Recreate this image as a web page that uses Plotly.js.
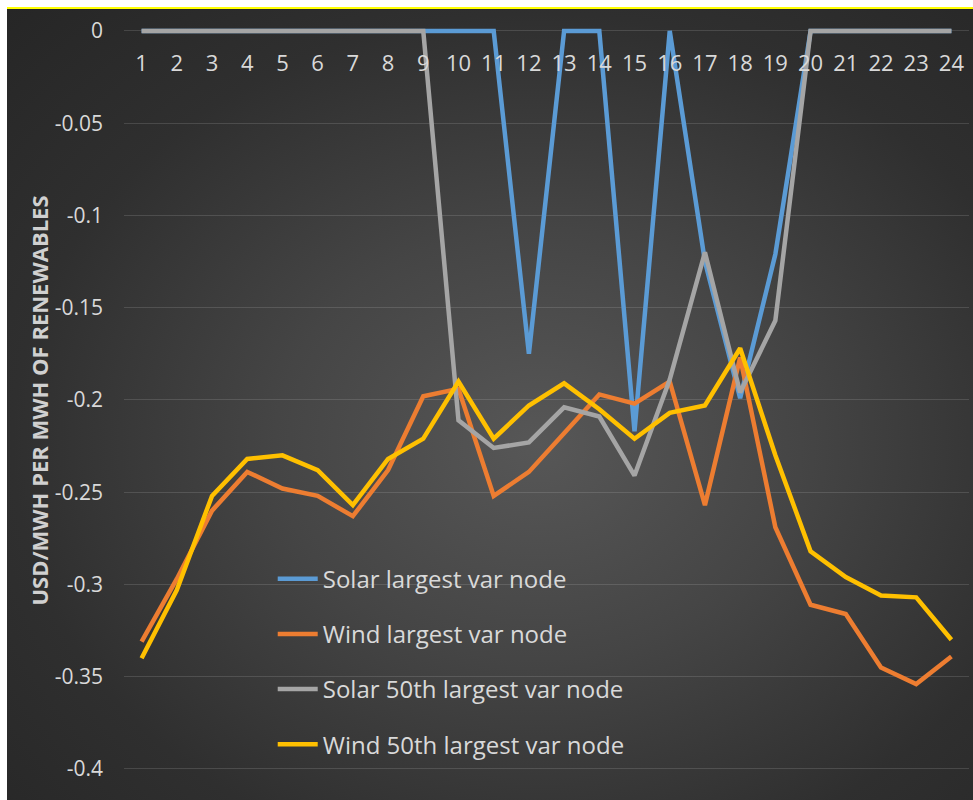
<!DOCTYPE html>
<html>
<head>
<meta charset="utf-8">
<script src="https://cdn.plot.ly/plotly-3.0.1.min.js"></script>
<style>
  html, body { margin: 0; padding: 0; background: #ffffff; width: 973px; height: 800px; overflow: hidden; }
  #frame { position: absolute; left: 7px; top: 9px; width: 966px; height: 791px;
    background: radial-gradient(ellipse farthest-corner at 55% 55%, #575757 0%, #454545 35%, #2f2f2f 70%, #262626 100%); }
  #topline { position: absolute; left: 7px; top: 7px; width: 966px; height: 2px; background: #ffff00; }
  #chart { position: absolute; left: 0; top: 0; width: 973px; height: 800px; }
</style>
</head>
<body>
<div id="frame"></div>
<div id="topline"></div>
<div id="chart"></div>
<script>
// ---- data ----
const hours = ['1','2','3','4','5','6','7','8','9','10','11','12','13','14','15','16','17','18','19','20','21','22','23','24'];
const solarLargest = [0,0,0,0,0,0,0,0,0,0,0,-0.175,0,0,-0.217,0,-0.125,-0.199,-0.121,0,0,0,0,0];
const windLargest = [-0.331,-0.297,-0.26,-0.239,-0.248,-0.252,-0.263,-0.238,-0.198,-0.194,-0.252,-0.239,-0.218,-0.197,-0.202,-0.19,-0.257,-0.177,-0.269,-0.311,-0.316,-0.345,-0.354,-0.339];
const solar50th = [0,0,0,0,0,0,0,0,0,-0.211,-0.226,-0.223,-0.204,-0.209,-0.241,-0.189,-0.12,-0.196,-0.157,0,0,0,0,0];
const wind50th = [-0.34,-0.303,-0.252,-0.232,-0.23,-0.238,-0.257,-0.232,-0.221,-0.19,-0.221,-0.203,-0.191,-0.205,-0.221,-0.207,-0.203,-0.172,-0.23,-0.282,-0.296,-0.306,-0.307,-0.33];
const seriesNames = ['Solar largest var node','Wind largest var node','Solar 50th largest var node','Wind 50th largest var node'];
const yTickVals = [0,-0.05,-0.1,-0.15,-0.2,-0.25,-0.3,-0.35,-0.4];
const yTickLabels = ['0','-0.05','-0.1','-0.15','-0.2','-0.25','-0.3','-0.35','-0.4'];
const yTitle = 'USD/MWH PER MWH OF RENEWABLES';

// ---- style ----
const colors = ['#5B9BD5','#ED7D31','#A5A5A5','#FFC000'];
const allSeries = [solarLargest, windLargest, solar50th, wind50th];
const txt = '#d9d9d9';
const font = '"Open Sans", "Noto Sans", sans-serif';

const traces = allSeries.map((s, i) => ({
  type: 'scatter', mode: 'lines', x: hours, y: s, name: seriesNames[i],
  legendgroup: 'g' + i,
  line: { color: colors[i], width: 4.5, shape: 'linear' },
  hoverinfo: 'skip'
}));

const mT = 16, mB = 15, H = 800;
const yTop = 0.0081, yBot = -0.4087;
const zeroFrac = (0 - yBot) / (yTop - yBot);

const layout = {
  width: 973, height: 800,
  margin: { l: 124, r: 4, t: mT, b: mB },
  paper_bgcolor: 'rgba(0,0,0,0)',
  plot_bgcolor: 'rgba(0,0,0,0)',
  font: { family: font, color: txt, size: 21 },
  showlegend: true,
  legend: {
    x: 0.176, xanchor: 'left', y: 0.297, yanchor: 'top',
    bgcolor: 'rgba(0,0,0,0)', borderwidth: 0,
    font: { family: font, size: 24, color: txt },
    traceorder: 'grouped', tracegroupgap: 21, itemwidth: 40
  },
  xaxis: {
    type: 'category', range: [-0.5, 23.5],
    anchor: 'free', position: zeroFrac, side: 'bottom',
    showgrid: false, zeroline: false, showline: false, ticks: '',
    tickfont: { family: font, size: 22, color: txt },
    ticklabelstandoff: 17,
    fixedrange: true
  },
  yaxis: {
    range: [yBot, yTop],
    tickvals: yTickVals, ticktext: yTickLabels,
    showgrid: true, gridcolor: 'rgba(200,200,200,0.18)', gridwidth: 1,
    zeroline: false, showline: false, ticks: '',
    tickfont: { family: font, size: 21, color: txt },
    ticklabelstandoff: 20,
    title: { text: yTitle, font: { family: font, size: 22, color: '#d0d0d0', weight: 'bold' }, standoff: 0 },
    automargin: false,
    fixedrange: true
  }
};

Plotly.newPlot('chart', traces, layout, { displayModeBar: false, staticPlot: true });
</script>
</body>
</html>
